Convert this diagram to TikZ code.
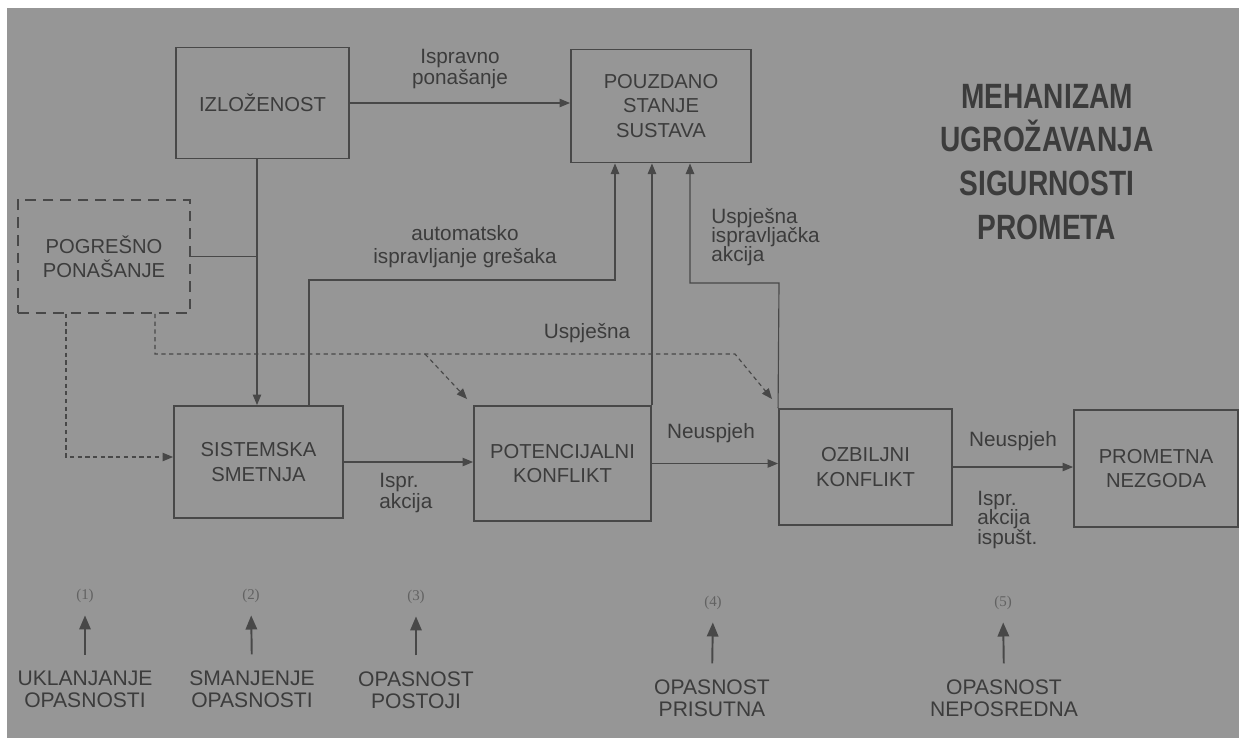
\documentclass[tikz,border=0pt]{standalone}
\usepackage{fontspec}
\setmainfont{Liberation Sans}
\newfontfamily\titlefont[FakeStretch=0.8]{Liberation Sans}
\newfontfamily\numfont{Liberation Serif}
\usetikzlibrary{arrows.meta,calc}
\definecolor{bg}{RGB}{150,150,150}
\definecolor{ink}{RGB}{72,72,72}
\definecolor{txt}{RGB}{60,60,60}
\definecolor{numc}{RGB}{98,98,98}
\tikzset{
  box/.style={draw=ink, line width=1.1pt, align=center, text=txt, inner sep=0pt,
    font=\fontsize{11.5}{13.8}\selectfont},
  dbox/.style={box, dash pattern=on 6pt off 4pt},
  lbl/.style={text=txt, inner sep=0pt, font=\fontsize{11.8}{13}\selectfont},
  conn/.style={draw=ink, line width=0.65pt},
  arr/.style={conn, -{Triangle[length=6pt,width=4.8pt]}},
  dotarr/.style={arr, dash pattern=on 2.4pt off 2pt},
  uparr/.style={draw=ink, line width=1.1pt, -{Triangle[length=8pt,width=6.5pt]}},
  numlbl/.style={text=numc, inner sep=0pt, font=\numfont\fontsize{8.5}{10}\selectfont},
  botlbl/.style={text=txt, inner sep=0pt, align=center, font=\fontsize{12}{12.5}\selectfont}
}
\begin{document}
\begin{tikzpicture}[x=0.02cm, y=-0.02cm]
\useasboundingbox (0,0) rectangle (1239,738);
\fill[white] (0,0) rectangle (1239,738);
\fill[bg] (7,8) rectangle (1239,738);

% boxes
\node[box, minimum width=3.46cm, minimum height=2.22cm] (izl) at (262.5,103) {IZLOŽENOST};
\node[box, minimum width=3.6cm, minimum height=2.26cm, font=\fontsize{11.5}{14.2}\selectfont] (pou) at (661,106) {POUZDANO\\STANJE\\SUSTAVA};
\node[dbox, minimum width=3.44cm, minimum height=2.26cm] (pog) at (104,256.5) {POGREŠNO\\PONAŠANJE};
\node[box, minimum width=3.38cm, minimum height=2.24cm] (sis) at (258.5,462) {SISTEMSKA\\SMETNJA};
\node[box, minimum width=3.54cm, minimum height=2.3cm] (pot) at (562.5,463.5) {POTENCIJALNI\\KONFLIKT};
\node[box, minimum width=3.46cm, minimum height=2.32cm] (ozb) at (865.5,467) {OZBILJNI\\KONFLIKT};
\node[box, minimum width=3.28cm, minimum height=2.34cm] (pro) at (1156,468.5) {PROMETNA\\NEZGODA};

% title
\node[text=txt, align=center, inner sep=0pt, font=\titlefont\bfseries\fontsize{20}{25}\selectfont] (title) at (1047,162)
  {MEHANIZAM\\UGROŽAVANJA\\SIGURNOSTI\\PROMETA};

% coordinates
\coordinate (v1) at (257,0);
\coordinate (a1) at (309,280);
\coordinate (a2) at (615,280);
\coordinate (b1) at (779,283);
\coordinate (b2) at (690,283);
\coordinate (d1) at (66,457);
\coordinate (e1) at (155,354);
\coordinate (e2) at (735,354);
\coordinate (e3) at (425,354);

% connectors
\draw[arr] (izl.east) -- (izl.east -| pou.west);
\draw[arr] (izl.south -| v1) -- (sis.north -| v1);
\draw[conn] (pog.east) -- (pog.east -| v1);
\draw[arr] (sis.north -| a1) -- (a1) -- (a2) -- (pou.south -| a2);
\draw[arr] (pot.north east) -- (pou.south -| pot.north east);
\draw[arr] (ozb.north west) -- (b1) -- (b2) -- (pou.south -| b2);
\draw[dotarr] (pog.south -| d1) -- (d1) -- (sis.west |- d1);
\draw[dotarr] (pog.south -| e1) -- (e1) -- (e2) -- ($(ozb.north west)+(-6,-9)$);
\draw[dotarr] (e3) -- ($(pot.north west)+(-6,-6)$);
\draw[arr] (sis.east) -- (sis.east -| pot.west);
\draw[arr] (pot.east) -- (pot.east -| ozb.west);
\draw[arr] (ozb.east) -- (ozb.east -| pro.west);

% connector labels
\node[lbl, align=center] (l_isp) at (460,69) {Ispravno\\[-1pt]ponašanje};
\node[lbl, align=center] (l_aut) at (465,247) {automatsko\\ispravljanje grešaka};
\node[lbl, align=left, anchor=west] (l_usp) at (711,237) {Uspješna\\[-2pt]ispravljačka\\[-2pt]akcija};
\node[lbl] (l_usp2) at (587,333) {Uspješna};
\node[lbl, align=left, anchor=west] (l_ia) at (379,493) {Ispr.\\[-1pt]akcija};
\node[lbl] (l_neu1) at (711,433) {Neuspjeh};
\node[lbl] (l_neu2) at (1013,441) {Neuspjeh};
\node[lbl, align=left, anchor=west] (l_iai) at (977,520) {Ispr.\\[-2pt]akcija\\[-2pt]ispušt.};

% bottom scale
\node[numlbl] (n1) at (85,596) {(1)};
\node[numlbl] (n2) at (251,596) {(2)};
\node[numlbl] (n3) at (416,597) {(3)};
\node[numlbl] (n4) at (713,603) {(4)};
\node[numlbl] (n5) at (1003,603) {(5)};
\node[botlbl] (b_1) at (85,689) {UKLANJANJE\\OPASNOSTI};
\node[botlbl] (b_2) at (252,689) {SMANJENJE\\OPASNOSTI};
\node[botlbl] (b_3) at (416,690) {OPASNOST\\POSTOJI};
\node[botlbl] (b_4) at (712,698) {OPASNOST\\PRISUTNA};
\node[botlbl] (b_5) at (1004,698) {OPASNOST\\NEPOSREDNA};
\foreach \i in {1,...,5}{
  \draw[uparr, shorten <=9pt, shorten >=7pt] (b_\i.north) -- (n\i.south);
}
\end{tikzpicture}
\end{document}
